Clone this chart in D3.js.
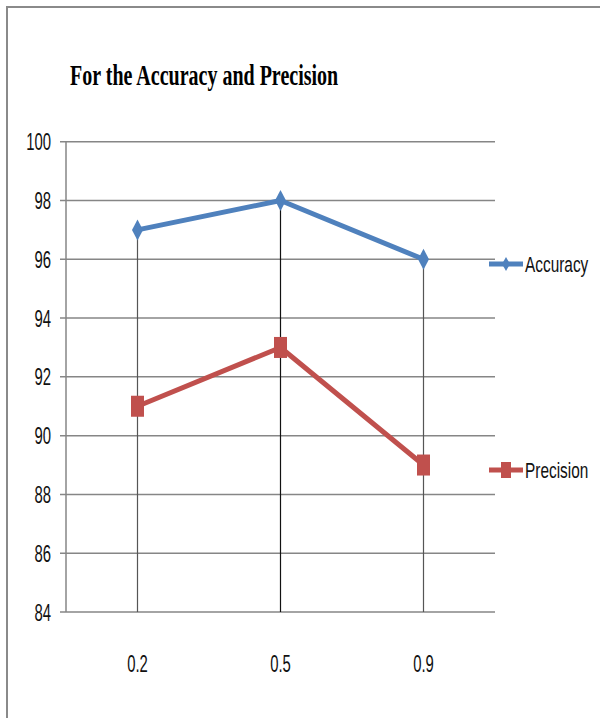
<!DOCTYPE html>
<html>
<head>
<meta charset="utf-8">
<script src="https://cdn.jsdelivr.net/npm/d3@7"></script>
<style>
  html, body { margin: 0; padding: 0; background: #fff; }
  svg { display: block; }
  .lbl { font-family: "Liberation Sans", Arial, sans-serif; fill: #111; }
  .ttl { font-family: "Liberation Serif", "Times New Roman", serif; font-weight: bold; fill: #000; }
</style>
</head>
<body>
<svg id="chart" width="600" height="718"></svg>
<script>
// Chart data
const categories = ["0.2", "0.5", "0.9"];
const seriesNames = ["Accuracy", "Precision"];
const accuracy = [97, 98, 96];
const precision = [91, 93, 89];
const yTicks = [84, 86, 88, 90, 92, 94, 96, 98, 100];
const titleText = "For the Accuracy and Precision";

const series = [
  { name: seriesNames[0], values: accuracy, color: "#4F81BD", marker: "diamond" },
  { name: seriesNames[1], values: precision, color: "#C0504D", marker: "square" }
];

const svg = d3.select("#chart");
const squeeze = 0.62; // narrow glyphs horizontally

// Outer frame (left and top edges)
svg.append("path")
  .attr("d", "M7,718 L7,7 L600,7")
  .attr("fill", "none").attr("stroke", "#8a8a8a").attr("stroke-width", 2);

// Title
svg.append("text").attr("class", "ttl")
  .attr("transform", `translate(70,85) scale(0.69,1)`)
  .attr("font-size", 29)
  .text(titleText);

const plot = { left: 66, right: 495, top: 141.7, bottom: 612 };

const x = d3.scaleBand().domain(categories).range([plot.left, plot.right]).padding(0);
const y = d3.scaleLinear().domain([84, 100]).range([plot.bottom, plot.top]);
const cx = c => x(c) + x.bandwidth() / 2;

// Horizontal gridlines with small outside ticks
const gy = svg.append("g");
yTicks.forEach(t => {
  gy.append("line")
    .attr("x1", plot.left - 6).attr("x2", plot.right)
    .attr("y1", y(t)).attr("y2", y(t))
    .attr("stroke", "#868686").attr("stroke-width", 1.5);
});
// Vertical axis line
svg.append("line")
  .attr("x1", plot.left).attr("x2", plot.left)
  .attr("y1", y(100)).attr("y2", y(84))
  .attr("stroke", "#868686").attr("stroke-width", 1.5);

// Y tick labels
yTicks.forEach(t => {
  svg.append("text").attr("class", "lbl")
    .attr("transform", `translate(51,${y(t) + 8.5}) scale(${squeeze},1)`)
    .attr("font-size", 24)
    .attr("text-anchor", "end")
    .text(t);
});

// X tick labels
categories.forEach(c => {
  svg.append("text").attr("class", "lbl")
    .attr("transform", `translate(${cx(c)},${672}) scale(${squeeze},1)`)
    .attr("font-size", 24)
    .attr("text-anchor", "middle")
    .text(c);
});

// Drop lines from the highest point of each category to the axis
categories.forEach((c, i) => {
  const top = d3.max(series, s => s.values[i]);
  svg.append("line")
    .attr("x1", cx(c)).attr("x2", cx(c))
    .attr("y1", y(top)).attr("y2", y(84))
    .attr("stroke", i === 1 ? "#111" : "#555").attr("stroke-width", 1.2);
});

const line = d3.line().x((d, i) => cx(categories[i])).y(d => y(d));

function drawMarker(g, type, px, py, color) {
  if (type === "diamond") {
    g.append("path")
      .attr("d", `M${px},${py - 10.5} L${px + 5.5},${py} L${px},${py + 10.5} L${px - 5.5},${py} Z`)
      .attr("fill", color);
  } else {
    g.append("rect")
      .attr("x", px - 6.5).attr("y", py - 10.5)
      .attr("width", 13).attr("height", 21)
      .attr("fill", color);
  }
}

series.forEach(s => {
  const g = svg.append("g");
  g.append("path")
    .datum(s.values)
    .attr("d", line)
    .attr("fill", "none")
    .attr("stroke", s.color)
    .attr("stroke-width", 5)
    .attr("stroke-linejoin", "round");
  s.values.forEach((v, i) => drawMarker(g, s.marker, cx(categories[i]), y(v), s.color));
});

// Legend
const legendY = [264, 470];
series.forEach((s, i) => {
  const g = svg.append("g");
  const ly = legendY[i];
  g.append("line")
    .attr("x1", 489).attr("x2", 523)
    .attr("y1", ly).attr("y2", ly)
    .attr("stroke", s.color).attr("stroke-width", 5);
  if (s.marker === "diamond") {
    g.append("path")
      .attr("d", `M506,${ly - 7} L510,${ly} L506,${ly + 7} L502,${ly} Z`)
      .attr("fill", s.color);
  } else {
    g.append("rect")
      .attr("x", 501).attr("y", ly - 8).attr("width", 10).attr("height", 16)
      .attr("fill", s.color);
  }
  g.append("text").attr("class", "lbl")
    .attr("transform", `translate(525,${ly + 8}) scale(0.7,1)`)
    .attr("font-size", 22)
    .text(s.name);
});
</script>
</body>
</html>
